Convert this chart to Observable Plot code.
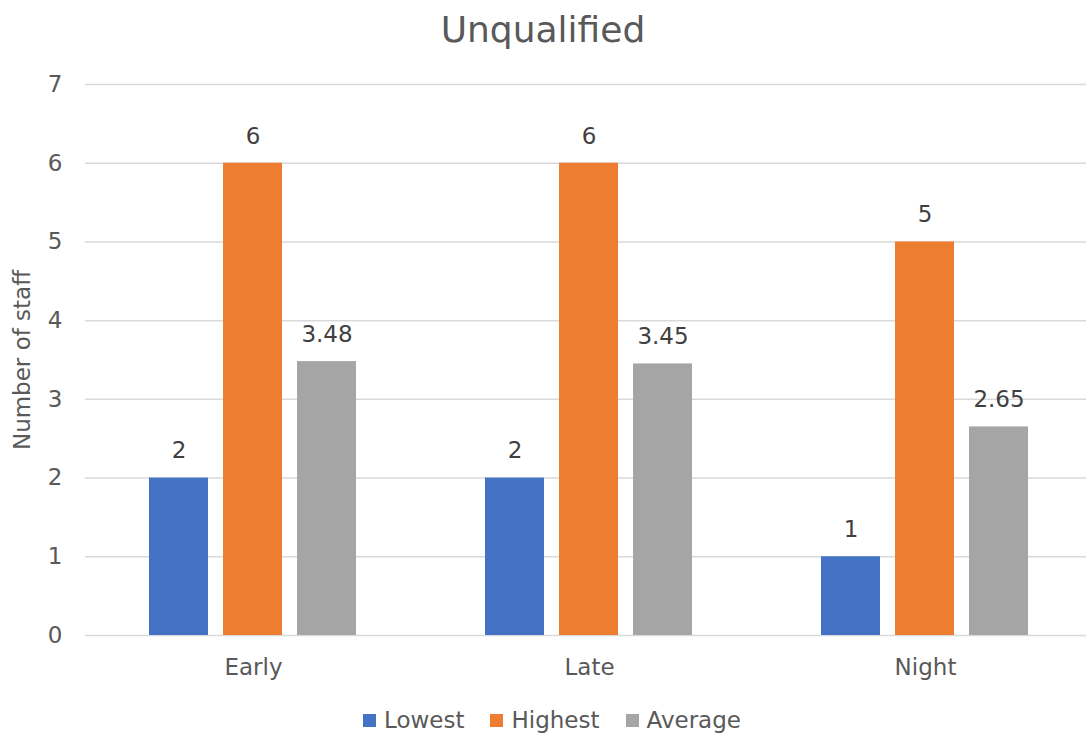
<!DOCTYPE html>
<html>
<head>
<meta charset="utf-8">
<script src="https://cdn.jsdelivr.net/npm/d3@7"></script>
<script src="https://cdn.jsdelivr.net/npm/@observablehq/plot@0.6"></script>
<style>
  html, body { margin: 0; padding: 0; background: #fff; }
  #chart { width: 1086px; height: 735px; position: relative; overflow: hidden; font-family: "DejaVu Sans", Verdana, sans-serif; }
  #title { height: 60px; line-height: 60px; text-align: center; font-size: 36px; color: #595959; }
  #legend { display: flex; justify-content: center; align-items: center; gap: 26px; font-size: 23px; color: #595959; height: 40px; margin-left: 18px; }
  #legend .item { display: flex; align-items: center; gap: 8px; }
  #legend .sw { width: 13px; height: 13px; display: inline-block; }
</style>
</head>
<body>
<div id="chart">
  <div id="title">Unqualified</div>
  <div id="plot"></div>
  <div id="legend"></div>
</div>
<script>
// Shifts and the three staffing figures for each shift
const shifts = ["Early", "Late", "Night"];
const seriesNames = ["Lowest", "Highest", "Average"];
const lowest = [2, 2, 1];
const highest = [6, 6, 5];
const average = [3.48, 3.45, 2.65];
const seriesColors = ["#4472C4", "#ED7D31", "#A5A5A5"];
const yTicks = [0, 1, 2, 3, 4, 5, 6, 7];

const valuesBySeries = [lowest, highest, average];
const rows = [];
shifts.forEach((shift, i) => {
  seriesNames.forEach((name, j) => {
    rows.push({shift, series: name, value: valuesBySeries[j][i]});
  });
});

const plot = Plot.plot({
  width: 1086,
  height: 640,
  marginTop: 24,
  marginBottom: 65,
  marginLeft: 85,
  marginRight: 0,
  style: {fontFamily: "DejaVu Sans, Verdana, sans-serif", fontSize: "23px", color: "#595959", background: "transparent", overflow: "visible"},
  fx: {domain: shifts, range: [84, 1093], padding: 0, label: null},
  x: {domain: seriesNames, paddingInner: 0.2, paddingOuter: 0.86, axis: null},
  y: {domain: [0, 7], ticks: yTicks, label: null},
  color: {domain: seriesNames, range: seriesColors},
  marks: [
    Plot.ruleY(yTicks, {stroke: "#d9d9d9", strokeWidth: 1.5}),
    Plot.axisY({ticks: yTicks, tickFormat: d => String(d), tickSize: 0, tickPadding: 23, label: "Number of staff", labelAnchor: "center", labelArrow: "none", labelOffset: 72, fill: "#595959"}),
    Plot.axisFx({anchor: "bottom", tickSize: 0, tickPadding: 23, label: null, fill: "#595959"}),
    Plot.barY(rows, {fx: "shift", x: "series", y: "value", fill: "series"}),
    Plot.text(rows, {fx: "shift", x: "series", y: "value", text: d => String(d.value), dy: -27, fill: "#404040"})
  ]
});
document.getElementById("plot").appendChild(plot);

// Legend built from the plot's own color scale
const color = plot.scale("color");
const legend = document.getElementById("legend");
color.domain.forEach((name, i) => {
  const item = document.createElement("div");
  item.className = "item";
  const sw = document.createElement("span");
  sw.className = "sw";
  sw.style.background = color.range[i];
  const label = document.createElement("span");
  label.textContent = name;
  item.appendChild(sw);
  item.appendChild(label);
  legend.appendChild(item);
});
</script>
</body>
</html>
